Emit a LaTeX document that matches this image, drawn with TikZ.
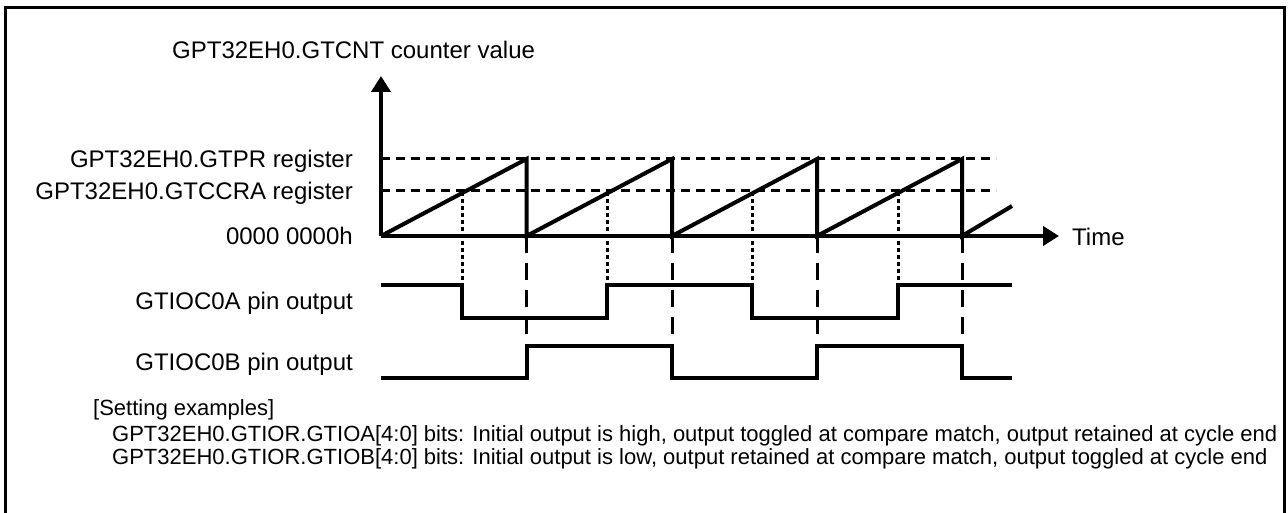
\documentclass[tikz,border=0pt]{standalone}
\usepackage{fontspec}
\setmainfont{Liberation Sans}
\usetikzlibrary{arrows.meta}
\begin{document}
\begin{tikzpicture}[x=1pt,y=-1pt,
  frame/.style={line width=3.5pt},
  axis/.style={line width=4pt,-{Triangle[length=16pt,width=19pt]}},
  wave/.style={line width=4pt,line join=miter},
  levelline/.style={line width=3pt,dash pattern=on 9pt off 6pt},
  cmpline/.style={line width=3pt,dash pattern=on 4pt off 3pt},
  resetline/.style={line width=3pt,dash pattern=on 17pt off 10pt},
  lbl/.style={font=\fontsize{24}{28}\selectfont,inner sep=0pt},
  note/.style={font=\fontsize{22}{26}\selectfont,inner sep=0pt,anchor=base west}
]
\useasboundingbox (0,0) rectangle (1288,513);
\draw[frame] (5.5,520) -- (5.5,7.5) -- (1284.5,7.5) -- (1284.5,520);

% coordinates
\coordinate (O) at (381,236);
\coordinate (Ytop) at (381,76);
\coordinate (Xend) at (1059,236);
\coordinate (P0) at (381,159);  \coordinate (P1) at (996,159);
\coordinate (C0) at (381,191);  \coordinate (C1) at (996,191);

% level lines
\draw[levelline] (P0) -- (P1);
\draw[levelline] (C0) -- (C1);

% compare-match dotted lines
\foreach \x in {462,607,752,898}
  \draw[cmpline] (\x,192) -- (\x,285);
% reset dashed lines
\foreach \x in {526.5,672,817,962}
  \draw[resetline] (\x,236) -- (\x,347);

% axes
\draw[axis] (O) -- (Ytop);
\draw[axis] (O) -- (Xend);

% sawtooth
\draw[wave] (381,236) -- (526.5,159) -- (526.5,236) -- (672,159) -- (672,236)
  -- (817,159) -- (817,236) -- (962,159) -- (962,236) -- (1012,206);

% GTIOC0A
\draw[wave] (381,285) -- (462,285) -- (462,318) -- (607,318) -- (607,285)
  -- (752,285) -- (752,318) -- (898,318) -- (898,285) -- (1012,285);
% GTIOC0B
\draw[wave] (381,378) -- (526.5,378) -- (526.5,346) -- (672,346) -- (672,378)
  -- (817,378) -- (817,346) -- (962,346) -- (962,378) -- (1012,378);

% labels
\node[lbl,anchor=base west] (ttl) at (172,59) {GPT32EH0.GTCNT counter value};
\node[lbl,anchor=base east] (lpr) at (353,168) {GPT32EH0.GTPR register};
\node[lbl,anchor=base east] (lcc) at (353,200) {GPT32EH0.GTCCRA register};
\node[lbl,anchor=base east] (lz) at (353,244) {0000 0000h};
\node[lbl,anchor=base west] (ltime) at (1072,246) {Time};
\node[lbl,anchor=base east] (la) at (353,309) {GTIOC0A pin output};
\node[lbl,anchor=base east] (lb) at (353,370) {GTIOC0B pin output};

\node[note] (n0) at (93,415) {[Setting examples]};
\node[note] (n1) at (112,441) {GPT32EH0.GTIOR.GTIOA[4:0] bits: Initial output is high, output toggled at compare match, output retained at cycle end};
\node[note] (n2) at (112,464) {GPT32EH0.GTIOR.GTIOB[4:0] bits: Initial output is low, output retained at compare match, output toggled at cycle end};
\end{tikzpicture}
\end{document}
